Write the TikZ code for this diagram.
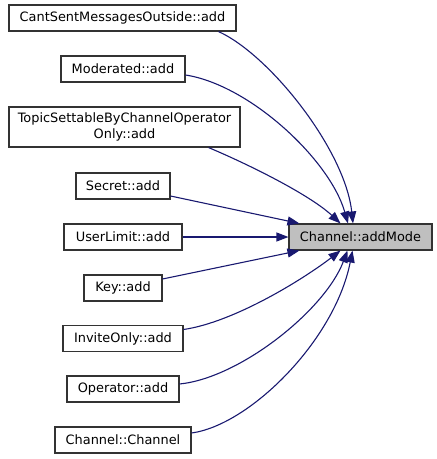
\documentclass[tikz,border=0pt]{standalone}
\usepackage{fontspec}
\setmainfont{DejaVu Sans}
\usepackage{tikz}
\usetikzlibrary{arrows.meta}
\definecolor{edgeblue}{RGB}{25,25,112}
\definecolor{rootgray}{RGB}{191,191,191}
\tikzset{
    % caller boxes
    fnbox/.style={rectangle, draw=black!80, fill=white, line width=1.1pt,
                minimum width=#1, minimum height=26pt, inner sep=0pt, align=center,
                font=\fontsize{12.9}{15.5}\selectfont},
    % the called function
    rootbox/.style={fnbox=#1, fill=rootgray},
    % call edges
    callarrow/.style={-{Triangle[length=12pt,width=9pt]}, line width=1.1pt, edgeblue},
}
\begin{document}
\begin{tikzpicture}[x=1pt, y=-1pt]
\useasboundingbox (0,0) rectangle (437,459);

\node[fnbox=227pt] (cant)   at (122.5,18)  {CantSentMessagesOutside::add};
\node[fnbox=124pt] (moder)  at (123,69)    {Moderated::add};
\node[fnbox=231pt, minimum height=40pt] (topic) at (124.5,127)
    {TopicSettableByChannelOperator\\Only::add};
\node[fnbox=94pt]  (secret) at (123,186)   {Secret::add};
\node[fnbox=118pt] (ulimit) at (123,237)   {UserLimit::add};
\node[fnbox=78pt]  (key)    at (123,288)   {Key::add};
\node[fnbox=120pt] (invite) at (123,338.5) {InviteOnly::add};
\node[fnbox=112pt] (oper)   at (123,389)   {Operator::add};
\node[fnbox=136pt] (chan)   at (123,440)   {Channel::Channel};

\node[rootbox=143pt] (mode) at (360.5,237) {Channel::addMode};

\draw[callarrow] ([xshift=-18pt]cant.south east)
    .. controls (270,55) and (345,150) .. ([xshift=-7.5pt]mode.north);
\draw[callarrow] ([yshift=-6pt]moder.east)
    .. controls (250,85) and (330,160) .. ([xshift=-12.5pt]mode.north);
\draw[callarrow] ([xshift=-32pt]topic.south east)
    .. controls (250,165) and (310,195) .. ([xshift=-20pt]mode.north);
\draw[callarrow] ([yshift=-10pt]secret.east) -- ([xshift=11pt]mode.north west);
\draw[callarrow] (ulimit.east) -- (mode.west);
\draw[callarrow] ([yshift=9pt]key.east) -- ([xshift=11pt]mode.south west);
\draw[callarrow] ([yshift=9pt]invite.east)
    .. controls (235,322) and (305,278) .. ([xshift=-20pt]mode.south);
\draw[callarrow] ([yshift=5pt]oper.east)
    .. controls (240,378) and (325,310) .. ([xshift=-13pt]mode.south);
\draw[callarrow] ([yshift=7pt]chan.east)
    .. controls (250,425) and (335,340) .. ([xshift=-8pt]mode.south);
\end{tikzpicture}
\end{document}
